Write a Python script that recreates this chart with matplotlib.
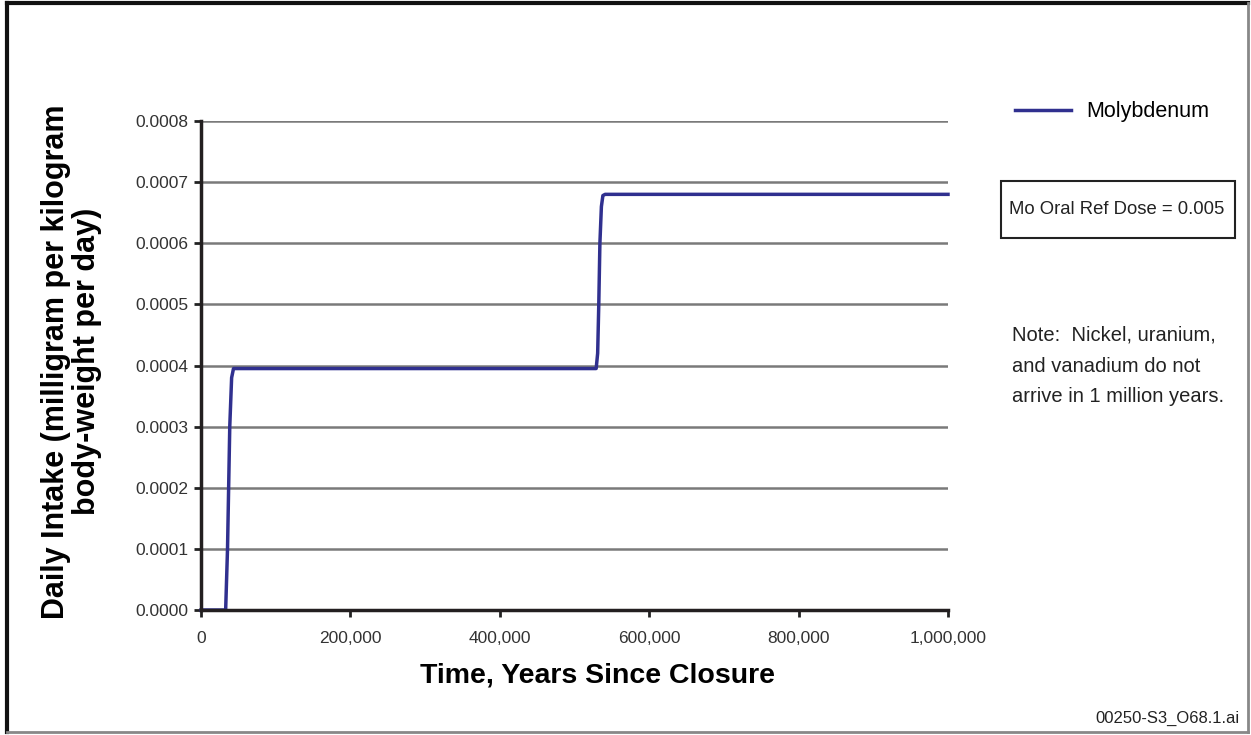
import matplotlib.pyplot as plt
from matplotlib.patches import Rectangle
from matplotlib.lines import Line2D
from matplotlib.ticker import FuncFormatter

plt.rcParams['font.family'] = ['Liberation Sans', 'DejaVu Sans']

# ---------------- data ----------------
years = [0, 33000, 35500, 38500, 41000, 43500, 529000, 531000, 532500,
         534000, 536000, 538000, 541000, 1000000]
intake = [0.0, 0.0, 0.00010, 0.00030, 0.00038, 0.000395, 0.000395, 0.00042,
          0.00050, 0.00060, 0.00066, 0.000678, 0.00068, 0.00068]
series_name = 'Molybdenum'
yticks = [0.0000, 0.0001, 0.0002, 0.0003, 0.0004, 0.0005, 0.0006, 0.0007, 0.0008]
xticks = [0, 200000, 400000, 600000, 800000, 1000000]
ref_dose_text = 'Mo Oral Ref Dose = 0.005'
note_lines = ['Note:  Nickel, uranium,', 'and vanadium do not',
              'arrive in 1 million years.']
file_tag = '00250-S3_O68.1.ai'

W, H = 1251, 735
fig = plt.figure(figsize=(W / 100, H / 100), dpi=100)
fig.patch.set_facecolor('white')

def fx(px):
    return px / W

def fy(py):
    return 1 - py / H

ax = fig.add_axes([fx(201), fy(610), (948 - 201) / W, (610 - 121) / H])
ax.set_facecolor('white')

for v in yticks[1:]:
    ax.axhline(v, color='#7a7a7a', lw=1.8, zorder=1)

ax.plot(years, intake, color='#30308f', lw=2.5, label=series_name,
        zorder=3, clip_on=False)

ax.set_xlim(0, 1000000)
ax.set_ylim(0, 0.0008)
ax.set_xticks(xticks)
ax.set_yticks(yticks)
ax.xaxis.set_major_formatter(FuncFormatter(lambda v, p: '{:,.0f}'.format(v)))
ax.yaxis.set_major_formatter(FuncFormatter(lambda v, p: '{:.4f}'.format(v)))
ax.tick_params(axis='both', labelsize=12.5, colors='#222222', width=2,
               length=5, direction='out')
ax.tick_params(axis='both', labelcolor='#333333')
ax.tick_params(axis='x', pad=10)
ax.tick_params(axis='y', pad=4)

for s in ['top', 'right']:
    ax.spines[s].set_visible(False)
for s in ['left', 'bottom']:
    ax.spines[s].set_linewidth(2.5)
    ax.spines[s].set_color('#231f20')
    ax.spines[s].set_zorder(4)

ax.set_xlabel('Time, Years Since Closure', fontsize=20.5, fontweight='bold',
              va='top')
ax.xaxis.set_label_coords(0.531, -0.108)
ax.set_ylabel('Daily Intake (milligram per kilogram\nbody-weight per day)',
              fontsize=22, fontweight='bold', va='center', linespacing=1.05)
ax.yaxis.set_label_coords(-0.173, 0.508)

ax.legend(loc='center left', bbox_to_anchor=(fx(1015), fy(112)),
          bbox_transform=fig.transFigure, frameon=False, fontsize=15.5,
          handlelength=2.6, handletextpad=0.7, borderpad=0, borderaxespad=0)

# reference dose box
fig.patches.append(Rectangle((fx(1001), fy(238)), fx(1235) - fx(1001),
                             fy(181) - fy(238), transform=fig.transFigure,
                             fill=False, edgecolor='#222222', lw=1.5))
fig.text(fx(1117), fy(210), ref_dose_text, fontsize=13.3, ha='center',
         va='center', color='#222222')

for i, line in enumerate(note_lines):
    fig.text(fx(1012), fy(335 + i * 31), line, fontsize=14.5, ha='left',
             va='center', color='#222222')

fig.text(fx(1240), fy(718), file_tag, fontsize=12, ha='right', va='center',
         color='#222222')

# outer frame
fig.lines.append(Line2D([fx(7), fx(7)], [fy(732), fy(3)], color='#111111',
                        lw=3, transform=fig.transFigure))
fig.lines.append(Line2D([fx(7), fx(1248)], [fy(3), fy(3)], color='#111111',
                        lw=3, transform=fig.transFigure))
fig.lines.append(Line2D([fx(1248), fx(1248)], [fy(3), fy(732)], color='#888888',
                        lw=2, transform=fig.transFigure))
fig.lines.append(Line2D([fx(7), fx(1248)], [fy(732), fy(732)], color='#888888',
                        lw=2, transform=fig.transFigure))

fig.savefig('out.png', dpi=100, facecolor='white')
